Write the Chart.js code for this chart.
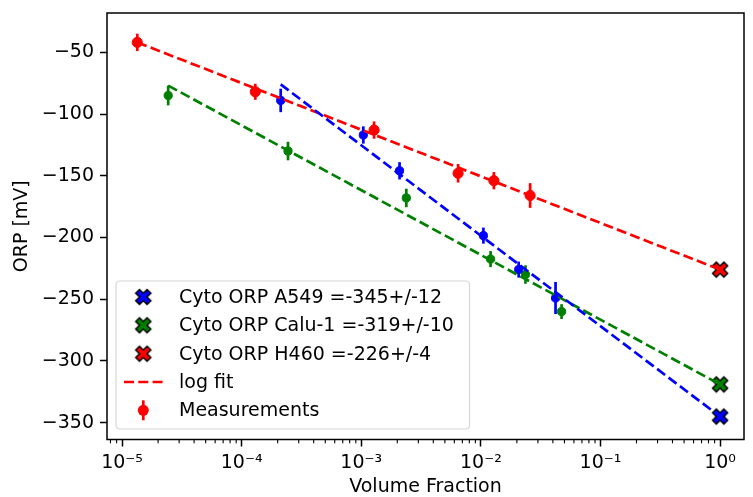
<!DOCTYPE html>
<html><head><meta charset="utf-8">
<script src="https://cdn.jsdelivr.net/npm/chart.js@4.4.1/dist/chart.umd.min.js"></script>
<style>html,body{margin:0;padding:0;background:#fff}#wrap{width:753px;height:497px;position:relative}</style>
</head><body><div id="wrap"><canvas id="c" width="753" height="497"></canvas></div>
<script>
// ---- data ----
const h460X = [1.34e-5, 1.3e-4, 1.28e-3, 6.45e-3, 1.285e-2, 2.58e-2];
const h460Y = [-42, -82, -113, -148, -154, -166];
const h460Err = [7, 6.5, 7, 7.5, 7, 10];
const a549X = [2.12e-4, 1.04e-3, 2.09e-3, 1.05e-2, 2.07e-2, 4.21e-2];
const a549Y = [-89, -117, -146, -198.5, -226, -249];
const a549Err = [9.5, 7, 7, 6.5, 6.5, 13];
const calu1X = [2.43e-5, 2.44e-4, 2.38e-3, 1.205e-2, 2.36e-2, 4.73e-2];
const calu1Y = [-85, -130, -168, -217.5, -230, -260];
const calu1Err = [8, 7.5, 7.5, 6.5, 7.5, 6];
const cytoLabels = ['Cyto ORP A549 =-345+/-12', 'Cyto ORP Calu-1 =-319+/-10', 'Cyto ORP H460 =-226+/-4'];
const cytoX = [1, 1, 1];
const cytoY = [-345, -319, -226];
const fitH460X = [1.34e-5, 1];
const fitH460Y = [-42, -226];
const fitCalu1X = [2.43e-5, 1];
const fitCalu1Y = [-77, -319];
const fitA549X = [2.12e-4, 1];
const fitA549Y = [-76, -345];
const xTickExps = [-5, -4, -3, -2, -1, 0];
const yTicks = [-350, -300, -250, -200, -150, -100, -50];

const RED = '#ff0000', GREEN = '#008000', BLUE = '#0000ff';
const FONT = 'DejaVu Sans';
const pts = (xs, ys) => xs.map((x, i) => ({x: x, y: ys[i]}));

function makeX(fill) {
  const c = document.createElement('canvas');
  c.width = 20; c.height = 20;
  const g = c.getContext('2d');
  g.translate(10, 10);
  g.rotate(Math.PI / 4);
  const v = [[-1,-3],[1,-3],[1,-1],[3,-1],[3,1],[1,1],[1,3],[-1,3],[-1,1],[-3,1],[-3,-1],[-1,-1]];
  const s = 16 / 6;
  g.beginPath();
  v.forEach((p, i) => { if (i === 0) g.moveTo(p[0]*s, p[1]*s); else g.lineTo(p[0]*s, p[1]*s); });
  g.closePath();
  g.fillStyle = fill; g.fill();
  g.lineWidth = 1.5; g.strokeStyle = '#000'; g.lineJoin = 'miter'; g.stroke();
  return c;
}
const xMarks = [makeX(BLUE), makeX(GREEN), makeX(RED)];

const sup = {'-':'\u207B','0':'\u2070','1':'\u00B9','2':'\u00B2','3':'\u00B3','4':'\u2074','5':'\u2075','6':'\u2076','7':'\u2077','8':'\u2078','9':'\u2079'};

const fitStyle = (col) => ({showLine: true, borderColor: col, backgroundColor: col, borderWidth: 2.7, borderDash: [10, 4.3], pointRadius: 0, fill: false});
const measStyle = (col, r) => ({backgroundColor: col, borderColor: col, borderWidth: 1, pointRadius: r, showLine: false});

const datasets = [
  Object.assign({label: 'fitA549', data: pts(fitA549X, fitA549Y)}, fitStyle(BLUE)),
  Object.assign({label: 'fitCalu1', data: pts(fitCalu1X, fitCalu1Y)}, fitStyle(GREEN)),
  Object.assign({label: 'fitH460', data: pts(fitH460X, fitH460Y)}, fitStyle(RED)),
  Object.assign({label: 'A549', data: pts(a549X, a549Y), errs: a549Err}, measStyle(BLUE, 4.1)),
  Object.assign({label: 'Calu-1', data: pts(calu1X, calu1Y), errs: calu1Err}, measStyle(GREEN, 4.1)),
  Object.assign({label: 'H460', data: pts(h460X, h460Y), errs: h460Err}, measStyle(RED, 5.1)),
];
cytoY.forEach((yv, i) => {
  datasets.push({label: cytoLabels[i], data: [{x: cytoX[i], y: yv}], pointStyle: xMarks[i], pointRadius: 8, showLine: false});
});

const errPlugin = {
  id: 'errbars',
  beforeDatasetDraw(chart, args) {
    const ds = chart.data.datasets[args.index];
    if (!ds.errs) return;
    const {ctx, scales: {x, y}} = chart;
    ctx.save();
    ctx.strokeStyle = ds.borderColor; ctx.lineWidth = 2.7;
    ds.data.forEach((p, i) => {
      const px = x.getPixelForValue(p.x);
      ctx.beginPath();
      ctx.moveTo(px, y.getPixelForValue(p.y - ds.errs[i]));
      ctx.lineTo(px, y.getPixelForValue(p.y + ds.errs[i]));
      ctx.stroke();
    });
    ctx.restore();
  }
};

const framePlugin = {
  id: 'frame',
  afterDatasetsDraw(chart) {
    const {ctx, chartArea: a, scales: {x}} = chart;
    ctx.save();
    // minor ticks
    ctx.strokeStyle = '#000'; ctx.lineWidth = 1.1;
    for (let e = -6; e <= 0; e++) {
      for (let k = 2; k <= 9; k++) {
        const v = k * Math.pow(10, e);
        if (v < x.min || v > x.max) continue;
        const px = x.getPixelForValue(v);
        ctx.beginPath(); ctx.moveTo(px, a.bottom); ctx.lineTo(px, a.bottom + 3.8); ctx.stroke();
      }
    }
    ctx.lineWidth = 1.5;
    ctx.strokeRect(a.left, a.top, a.right - a.left, a.bottom - a.top);

    // legend
    const L = 116, T = 281, R = 469.5, B = 429, rad = 4;
    ctx.beginPath();
    ctx.moveTo(L + rad, T); ctx.lineTo(R - rad, T); ctx.quadraticCurveTo(R, T, R, T + rad);
    ctx.lineTo(R, B - rad); ctx.quadraticCurveTo(R, B, R - rad, B);
    ctx.lineTo(L + rad, B); ctx.quadraticCurveTo(L, B, L, B - rad);
    ctx.lineTo(L, T + rad); ctx.quadraticCurveTo(L, T, L + rad, T);
    ctx.closePath();
    ctx.fillStyle = 'rgba(255,255,255,0.8)'; ctx.fill();
    ctx.strokeStyle = '#d6d6d6'; ctx.lineWidth = 1.2; ctx.stroke();

    const rows = [297, 325.3, 353.7, 382, 410.3];
    const mx = 143.3, tx = 179;
    for (let i = 0; i < 3; i++) ctx.drawImage(xMarks[i], mx - 10, rows[i] - 10);
    ctx.strokeStyle = RED; ctx.lineWidth = 2.7; ctx.setLineDash([10, 4.3]);
    ctx.beginPath(); ctx.moveTo(124, rows[3]); ctx.lineTo(163, rows[3]); ctx.stroke();
    ctx.setLineDash([]);
    ctx.beginPath(); ctx.moveTo(mx, rows[4] - 10); ctx.lineTo(mx, rows[4] + 10); ctx.stroke();
    ctx.fillStyle = RED; ctx.beginPath(); ctx.arc(mx, rows[4], 5.5, 0, Math.PI * 2); ctx.fill();

    ctx.fillStyle = '#000'; ctx.font = '19px "' + FONT + '"';
    ctx.textBaseline = 'middle'; ctx.textAlign = 'left';
    const texts = cytoLabels.concat(['log fit', 'Measurements']);
    texts.forEach((t, i) => ctx.fillText(t, tx, rows[i] + 1));
    ctx.restore();
  }
};

const font = {family: FONT, size: 19};
new Chart(document.getElementById('c'), {
  type: 'scatter',
  data: {datasets: datasets},
  options: {
    responsive: false, animation: false, devicePixelRatio: 1,
    layout: {padding: {left: 0, top: 13, right: -1, bottom: 0}},
    plugins: {legend: {display: false}, tooltip: {enabled: false}},
    scales: {
      x: {
        type: 'logarithmic', min: Math.pow(10, -5.126), max: Math.pow(10, 0.2),
        afterBuildTicks: s => { s.ticks = xTickExps.map(e => ({value: Math.pow(10, e)})); },
        afterFit: s => { s.height = 57.5; s.paddingLeft = 0; s.paddingRight = 0; s.paddingTop = 0; s.paddingBottom = 0; },
        ticks: {
          callback: v => '10' + String(Math.round(Math.log10(v))).split('').map(c => sup[c]).join(''),
          font: font, color: '#000', padding: 5, maxRotation: 0, autoSkip: false
        },
        grid: {drawOnChartArea: false, tickLength: 7, tickColor: '#000', tickWidth: 1.5},
        border: {display: false},
        title: {display: true, text: 'Volume Fraction', font: font, color: '#000', padding: {top: 0, bottom: -1.5}}
      },
      y: {
        type: 'linear', min: -363.6, max: -18.2,
        afterBuildTicks: s => { s.ticks = yTicks.map(v => ({value: v})); },
        afterFit: s => { s.width = 107; s.paddingLeft = 0; s.paddingRight = 0; s.paddingTop = 0; s.paddingBottom = 0; },
        ticks: {
          callback: v => String(v).replace('-', '\u2212'),
          font: font, color: '#000', padding: 6
        },
        grid: {drawOnChartArea: false, tickLength: 7, tickColor: '#000', tickWidth: 1.5},
        border: {display: false},
        title: {display: true, text: 'ORP [mV]', font: font, color: '#000', padding: {top: 10.5, bottom: 0}}
      }
    }
  },
  plugins: [errPlugin, framePlugin]
});
</script>
</body></html>
